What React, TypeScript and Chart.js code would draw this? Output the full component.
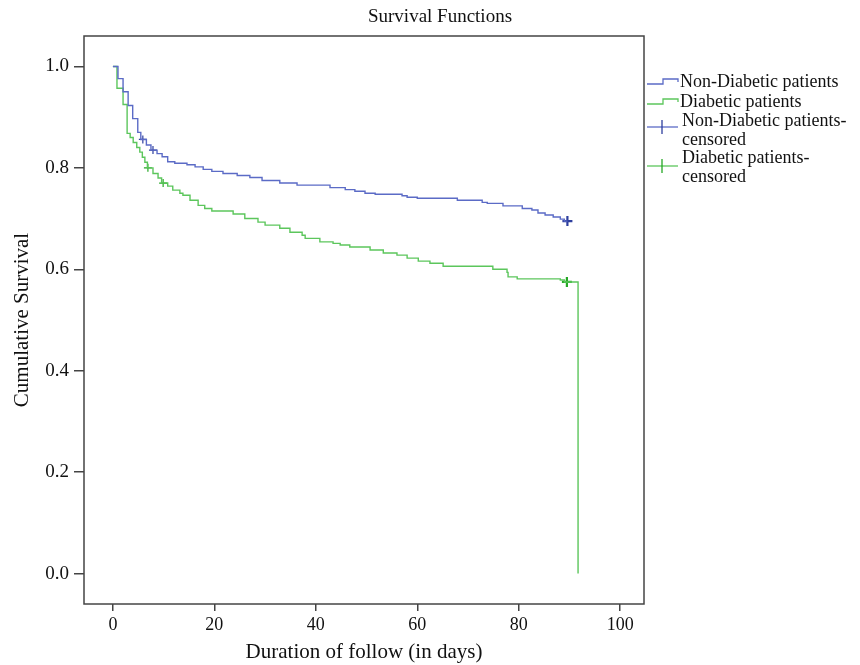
import React, { useEffect, useRef } from "react";
import { Chart, registerables } from "chart.js";

Chart.register(...registerables);

const CHART_TITLE = "Survival Functions";
const X_TITLE = "Duration of follow (in days)";
const Y_TITLE = "Cumulative Survival";
const X_TICKS = [0, 20, 40, 60, 80, 100];
const Y_TICKS = [0, 0.2, 0.4, 0.6, 0.8, 1.0];
const LEGEND_NON_DIABETIC = "Non-Diabetic patients";
const LEGEND_DIABETIC = "Diabetic patients";
const LEGEND_NON_DIABETIC_CENSORED = ["Non-Diabetic patients-", "censored"];
const LEGEND_DIABETIC_CENSORED = ["Diabetic patients-", "censored"];

const nonDiabeticDays = [
  0, 1.0, 2.0, 3.0, 3.9, 4.9, 5.5, 6.6, 7.5, 8.7, 9.7, 10.8, 12.2, 14.6, 16.2,
  17.8, 19.5, 21.7, 24.5, 27.0, 29.4, 32.9, 36.3, 42.8, 45.8, 47.7, 49.7, 51.7,
  57.0, 58.0, 60.0, 67.9, 72.8, 73.8, 76.9, 80.7, 82.6, 83.8, 85.2, 86.8, 88.2,
  89.0, 89.6,
];
const nonDiabeticSurvival = [
  1.0, 0.976, 0.95, 0.923, 0.897, 0.87, 0.856, 0.845, 0.835, 0.828, 0.822, 0.812,
  0.809, 0.806, 0.802, 0.797, 0.793, 0.789, 0.785, 0.781, 0.775, 0.77, 0.766,
  0.761, 0.757, 0.754, 0.75, 0.748, 0.745, 0.742, 0.74, 0.736, 0.732, 0.73,
  0.725, 0.72, 0.717, 0.711, 0.707, 0.703, 0.699, 0.695, 0.695,
];

const diabeticDays = [
  0, 0.8, 2.0, 2.8, 3.4, 4.0, 4.7, 5.3, 5.8, 6.3, 6.8, 7.9, 8.9, 9.6, 10.8, 11.8,
  13.2, 13.8, 15.2, 16.8, 18.1, 19.5, 23.7, 26.0, 28.6, 30.0, 32.9, 34.9, 37.3,
  37.9, 40.8, 43.4, 44.8, 46.7, 50.7, 53.3, 56.0, 58.0, 60.2, 62.5, 65.1, 74.9,
  77.7, 77.9, 79.7, 88.2, 89.0, 91.7,
];
const diabeticSurvival = [
  1.0, 0.957, 0.925, 0.868, 0.86, 0.85, 0.84, 0.831, 0.821, 0.811, 0.8, 0.789,
  0.78, 0.77, 0.764, 0.756, 0.75, 0.746, 0.736, 0.726, 0.72, 0.715, 0.709, 0.7,
  0.693, 0.687, 0.681, 0.673, 0.667, 0.661, 0.654, 0.651, 0.648, 0.644, 0.638,
  0.632, 0.628, 0.622, 0.616, 0.612, 0.606, 0.6, 0.594, 0.585, 0.581, 0.579,
  0.575, 0.0,
];

const nonDiabeticCensoredDays = [5.9, 7.9, 89.6];
const nonDiabeticCensoredSurvival = [0.856, 0.835, 0.695];
const diabeticCensoredDays = [6.9, 9.9, 89.5];
const diabeticCensoredSurvival = [0.8, 0.77, 0.575];

const BLUE_LINE = "#5b6bc6";
const GREEN_LINE = "#5cc65c";
const BLUE_MARK = "#2e3f9e";
const GREEN_MARK = "#25a825";
const FRAME = "#444444";
const SERIF = '"Liberation Serif", "Times New Roman", serif';

const toPoints = (xs: number[], ys: number[]) => xs.map((x, i) => ({ x, y: ys[i] }));

const decorPlugin = {
  id: "decor",
  afterDraw(chart: any) {
    const ctx = chart.ctx as CanvasRenderingContext2D;
    const a = chart.chartArea;
    ctx.save();
    // frame
    ctx.strokeStyle = FRAME;
    ctx.lineWidth = 1.5;
    ctx.strokeRect(a.left, a.top, a.right - a.left, a.bottom - a.top);
    // title
    ctx.fillStyle = "#111";
    ctx.font = `19px ${SERIF}`;
    ctx.textAlign = "center";
    ctx.textBaseline = "middle";
    ctx.fillText(CHART_TITLE, 440, 17);

    // legend
    ctx.textAlign = "left";
    ctx.font = `18px ${SERIF}`;
    const sx = a.right + 3;
    const drawStep = (color: string, yLow: number) => {
      ctx.strokeStyle = color;
      ctx.lineWidth = 1.3;
      ctx.beginPath();
      ctx.moveTo(sx, yLow);
      ctx.lineTo(sx + 16, yLow);
      ctx.lineTo(sx + 16, yLow - 5);
      ctx.lineTo(sx + 31, yLow - 5);
      ctx.lineTo(sx + 31, yLow - 2);
      ctx.stroke();
    };
    const drawCensor = (lineColor: string, markColor: string, y: number) => {
      ctx.strokeStyle = lineColor;
      ctx.lineWidth = 1.3;
      ctx.beginPath();
      ctx.moveTo(sx, y);
      ctx.lineTo(sx + 31, y);
      ctx.stroke();
      ctx.strokeStyle = markColor;
      ctx.beginPath();
      ctx.moveTo(sx + 15, y - 7);
      ctx.lineTo(sx + 15, y + 7);
      ctx.stroke();
    };
    drawStep(BLUE_LINE, 84);
    ctx.fillStyle = "#111";
    ctx.fillText(LEGEND_NON_DIABETIC, sx + 33, 82);
    drawStep(GREEN_LINE, 104);
    ctx.fillText(LEGEND_DIABETIC, sx + 33, 102);
    drawCensor(BLUE_LINE, BLUE_MARK, 127);
    ctx.fillText(LEGEND_NON_DIABETIC_CENSORED[0], sx + 35, 121);
    ctx.fillText(LEGEND_NON_DIABETIC_CENSORED[1], sx + 35, 140);
    drawCensor(GREEN_LINE, GREEN_MARK, 166);
    ctx.fillText(LEGEND_DIABETIC_CENSORED[0], sx + 35, 158);
    ctx.fillText(LEGEND_DIABETIC_CENSORED[1], sx + 35, 177);
    ctx.restore();
  },
};

export default function App() {
  const canvasRef = useRef<HTMLCanvasElement | null>(null);

  useEffect(() => {
    if (!canvasRef.current) return;
    const chart = new Chart(canvasRef.current, {
      type: "line",
      data: {
        datasets: [
          {
            label: LEGEND_NON_DIABETIC,
            data: toPoints(nonDiabeticDays, nonDiabeticSurvival),
            borderColor: BLUE_LINE,
            borderWidth: 1.4,
            stepped: true,
            pointRadius: 0,
            fill: false,
          },
          {
            label: LEGEND_DIABETIC,
            data: toPoints(diabeticDays, diabeticSurvival),
            borderColor: GREEN_LINE,
            borderWidth: 1.4,
            stepped: true,
            pointRadius: 0,
            fill: false,
          },
          {
            label: LEGEND_NON_DIABETIC_CENSORED.join(""),
            data: toPoints(nonDiabeticCensoredDays, nonDiabeticCensoredSurvival),
            showLine: false,
            pointStyle: "cross",
            pointRadius: [4, 4, 5],
            pointBorderWidth: [1.2, 1.2, 2.2],
            borderColor: BLUE_MARK,
            pointBorderColor: BLUE_MARK,
          },
          {
            label: LEGEND_DIABETIC_CENSORED.join(""),
            data: toPoints(diabeticCensoredDays, diabeticCensoredSurvival),
            showLine: false,
            pointStyle: "cross",
            pointRadius: [4, 4, 5],
            pointBorderWidth: [1.2, 1.2, 2.2],
            borderColor: GREEN_MARK,
            pointBorderColor: GREEN_MARK,
          },
        ],
      },
      options: {
        responsive: false,
        animation: false,
        devicePixelRatio: 1,
        layout: { padding: { top: 36, right: 216, left: 0, bottom: 0 } },
        plugins: {
          legend: { display: false },
          title: { display: false },
          tooltip: { enabled: false },
        },
        scales: {
          x: {
            type: "linear",
            min: -5.7,
            max: 104.7,
            afterBuildTicks: (scale: any) => {
              scale.ticks = X_TICKS.map((v) => ({ value: v }));
            },
            afterFit: (scale: any) => {
              scale.height = 61;
            },
            grid: {
              display: true,
              drawOnChartArea: false,
              drawTicks: true,
              tickLength: 7,
              color: FRAME,
              lineWidth: 1.5,
            },
            border: { display: false },
            ticks: {
              color: "#111",
              font: { family: SERIF, size: 18 },
              padding: 3,
              maxRotation: 0,
              callback: (v: any) => String(v),
            },
            title: {
              display: true,
              text: X_TITLE,
              color: "#111",
              font: { family: SERIF, size: 21 },
              padding: { top: 0, bottom: 0 },
            },
          },
          y: {
            type: "linear",
            min: -0.06,
            max: 1.06,
            afterBuildTicks: (scale: any) => {
              scale.ticks = Y_TICKS.map((v) => ({ value: v }));
            },
            afterFit: (scale: any) => {
              scale.width = 84;
            },
            grid: {
              display: true,
              drawOnChartArea: false,
              drawTicks: true,
              tickLength: 10,
              color: FRAME,
              lineWidth: 1.5,
            },
            border: { display: false },
            ticks: {
              color: "#111",
              font: { family: SERIF, size: 19 },
              padding: 5,
              callback: (v: any) => Number(v).toFixed(1),
            },
            title: {
              display: true,
              text: Y_TITLE,
              color: "#111",
              font: { family: SERIF, size: 21 },
              padding: { top: 10, bottom: 0 },
            },
          },
        },
      },
      plugins: [decorPlugin],
    });
    return () => chart.destroy();
  }, []);

  return (
    <div style={{ position: "absolute", left: 0, top: 0, width: 860, height: 665, background: "#fff" }}>
      <canvas ref={canvasRef} width={860} height={665} />
    </div>
  );
}
